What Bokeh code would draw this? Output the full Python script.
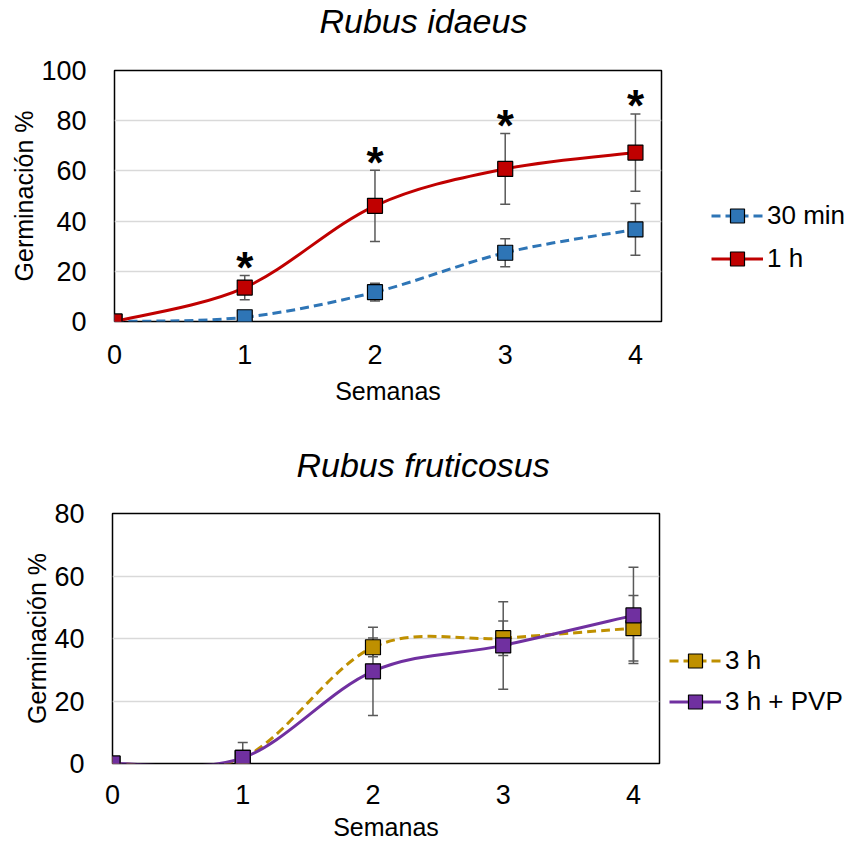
from bokeh.plotting import figure
from bokeh.models import (ColumnDataSource, Whisker, Legend, LegendItem, TeeHead,
                          FixedTicker, Range1d)
from bokeh.layouts import column, row
from bokeh.embed import file_html
from bokeh.resources import INLINE
from bokeh.core.properties import value

# ---------------- data ----------------
weeks = [0, 1, 2, 3, 4]
x_ticks = [0, 1, 2, 3, 4]

# Rubus idaeus
ri_30min = [0, 1.7, 11.7, 27.4, 36.7]
ri_30min_err = [0, 0.8, 3.5, 5.6, 10.3]
ri_1h = [0, 13.5, 46.1, 60.8, 67.3]
ri_1h_err = [0, 4.8, 14.2, 14.1, 15.4]
ri_signif = [False, True, True, True, True]
ri_y_ticks = [0, 20, 40, 60, 80, 100]

# Rubus fruticosus
rf_3h = [0, 1.8, 37.2, 40.1, 43.3]
rf_3h_err = [0, 0, 3.0, 5.5, 10.5]
rf_pvp = [0, 1.8, 29.5, 37.8, 47.4]
rf_pvp_err = [0, 4.9, 14.1, 14.0, 15.4]
rf_y_ticks = [0, 20, 40, 60, 80]

FONT = "Liberation Sans"
C_BLUE = "#2e75b6"
C_RED = "#c00000"
C_GOLD = "#bf9000"
C_PURPLE = "#7030a0"
DASH = "9 5"


def smooth_segments(xs, ys):
    """Bezier control points (Catmull-Rom style, as Excel's smoothed line)."""
    n = len(xs)
    d = dict(x0=[], y0=[], x1=[], y1=[], cx0=[], cy0=[], cx1=[], cy1=[])
    for i in range(n - 1):
        a = max(i - 1, 0)
        b = min(i + 2, n - 1)
        d["x0"].append(xs[i]); d["y0"].append(ys[i])
        d["x1"].append(xs[i + 1]); d["y1"].append(ys[i + 1])
        d["cx0"].append(xs[i] + (xs[i + 1] - xs[a]) / 6.0)
        d["cy0"].append(ys[i] + (ys[i + 1] - ys[a]) / 6.0)
        d["cx1"].append(xs[i + 1] - (xs[b] - xs[i]) / 6.0)
        d["cy1"].append(ys[i + 1] - (ys[b] - ys[i]) / 6.0)
    return ColumnDataSource(d)


def header(text, offset, height):
    """Strip carrying the italic chart title."""
    h = figure(width=850, height=height, output_backend="svg", toolbar_location=None,
               x_axis_type=None, y_axis_type=None, x_range=Range1d(0, 1),
               y_range=Range1d(0, 1), min_border=0, outline_line_color=None)
    h.grid.visible = False
    h.title.text = text
    h.title.text_font = FONT
    h.title.text_font_style = "italic"
    h.title.text_font_size = "34px"
    h.title.text_color = "black"
    h.title.align = "left"
    h.title.vertical_align = "top"
    h.title.offset = offset
    h.title.standoff = 2
    return h


def make_fig(width, height, ymax, yticks, borders, xl_standoff, xal_standoff):
    bl, br, bt, bb = borders
    p = figure(width=width, height=height, output_backend="svg", toolbar_location=None,
               x_range=Range1d(0, 4.2), y_range=Range1d(0, ymax),
               min_border_left=bl, min_border_right=br, min_border_top=bt,
               min_border_bottom=bb)
    p.outline_line_color = "black"
    p.outline_line_width = 1.5
    p.xgrid.grid_line_color = None
    p.ygrid.grid_line_color = "#d9d9d9"
    p.ygrid.grid_line_width = 1.5
    p.xaxis.ticker = FixedTicker(ticks=x_ticks)
    p.yaxis.ticker = FixedTicker(ticks=yticks)
    for ax in (p.xaxis[0], p.yaxis[0]):
        ax.axis_line_color = None
        ax.major_tick_line_color = None
        ax.minor_tick_line_color = None
        ax.major_label_text_font = FONT
        ax.major_label_text_font_size = "27px"
        ax.major_label_text_color = "black"
        ax.axis_label_text_font = FONT
        ax.axis_label_text_font_size = "25px"
        ax.axis_label_text_font_style = "normal"
        ax.axis_label_text_color = "black"
    p.xaxis.axis_label = "Semanas"
    p.yaxis.axis_label = "Germinación %"
    p.xaxis.major_label_standoff = xl_standoff
    p.xaxis.axis_label_standoff = xal_standoff
    p.yaxis.major_label_standoff = 22
    p.yaxis.axis_label_standoff = 0
    return p


def add_series(p, ys, errs, color, dash):
    src = ColumnDataSource(dict(x=weeks, y=ys,
                                upper=[m + e for m, e in zip(ys, errs)],
                                lower=[max(0, m - e) for m, e in zip(ys, errs)]))
    w = Whisker(source=src, base="x", upper="upper", lower="lower", level="underlay",
                line_color="#595959", line_width=1.5,
                upper_head=TeeHead(size=10, line_color="#595959", line_width=1.5),
                lower_head=TeeHead(size=10, line_color="#595959", line_width=1.5))
    p.add_layout(w)
    seg = smooth_segments(weeks, ys)
    p.bezier(x0="x0", y0="y0", x1="x1", y1="y1", cx0="cx0", cy0="cy0",
             cx1="cx1", cy1="cy1", source=seg, line_color=color, line_width=3,
             line_dash=dash)
    p.scatter(x="x", y="y", source=src, marker="square", size=15,
              fill_color=color, line_color="black", line_width=1.2)


def legend_fig(width, height, entries, loc, spacing):
    """Side panel holding the legend (proxy glyphs lie outside its view)."""
    lf = figure(width=width, height=height, output_backend="svg", toolbar_location=None,
                x_axis_type=None, y_axis_type=None, x_range=Range1d(10, 11),
                y_range=Range1d(10, 11), min_border=0, outline_line_color=None)
    lf.grid.visible = False
    items = []
    for label, ys, color, dash in entries:
        ln = lf.line(x=weeks[:1], y=ys[:1], line_color=color, line_width=3,
                     line_dash=dash)
        sc = lf.scatter(x=weeks[:1], y=ys[:1], marker="square", size=15,
                        fill_color=color, line_color="black", line_width=1.2)
        items.append(LegendItem(label=label, renderers=[ln, sc]))
    leg = Legend(items=items, location=loc, border_line_color=None,
                 background_fill_alpha=0, padding=0, margin=0, spacing=spacing,
                 glyph_width=52, glyph_height=35, label_height=35, label_standoff=4,
                 label_text_font=FONT, label_text_font_size="26px",
                 label_text_color="black")
    lf.add_layout(leg)
    return lf


W1, W2 = 669, 667
HD1, H1, HD2, H2 = 50, 394, 51, 348

# ---------------- Rubus idaeus ----------------
hd1 = header("Rubus idaeus", 319, HD1)
p1 = make_fig(W1, H1, 100, ri_y_ticks, (114, 8, 20, 123), 17, 10)
add_series(p1, ri_30min, ri_30min_err, C_BLUE, DASH)
add_series(p1, ri_1h, ri_1h_err, C_RED, "solid")
star_x = [w for w, s in zip(weeks, ri_signif) if s]
star_y = [m + e for m, e, s in zip(ri_1h, ri_1h_err, ri_signif) if s]
p1.text(x=star_x, y=star_y, text=["*"] * len(star_x), text_font=value(FONT),
        text_font_size="44px", text_font_style="bold", text_align="center",
        text_baseline="alphabetic", y_offset=-8, text_color="black")
l1 = legend_fig(850 - W1, H1, [("30 min", ri_30min, C_BLUE, DASH),
                               ("1 h", ri_1h, C_RED, "solid")], (42, 45), 8)

# ---------------- Rubus fruticosus ----------------
hd2 = header("Rubus fruticosus", 296, HD2)
p2 = make_fig(W2, H2, 80, rf_y_ticks, (112, 8, 18, 80), 15, 6)
add_series(p2, rf_3h, rf_3h_err, C_GOLD, DASH)
add_series(p2, rf_pvp, rf_pvp_err, C_PURPLE, "solid")
l2 = legend_fig(850 - W2, H2, [("3 h", rf_3h, C_GOLD, DASH),
                               ("3 h + PVP", rf_pvp, C_PURPLE, "solid")], (2, 44), 6)

layout = column(hd1, row(p1, l1, spacing=0), hd2, row(p2, l2, spacing=0), spacing=0)
open("out.html", "w").write(file_html(layout, INLINE))
